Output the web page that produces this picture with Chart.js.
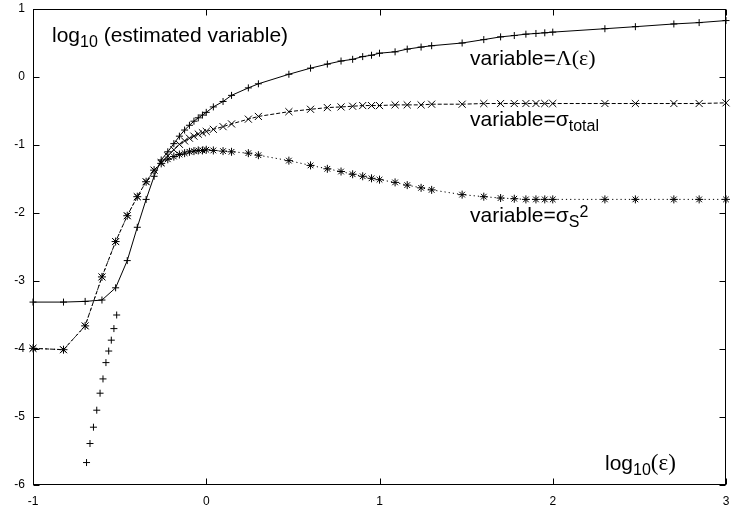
<!DOCTYPE html>
<html>
<head>
<meta charset="utf-8">
<script src="https://cdn.jsdelivr.net/npm/chart.js@4.4.0/dist/chart.umd.min.js"></script>
<style>
  html, body { margin: 0; padding: 0; background: #fff; }
  #wrap { width: 732px; height: 510px; }
</style>
</head>
<body>
<div id="wrap"><canvas id="chart" width="732" height="510"></canvas></div>
<script>
// log10(eps) at every computed point
const logEps = [
  -1.000, -0.824, -0.699, -0.602, -0.523, -0.456, -0.398, -0.347, -0.301, -0.260,
  -0.222, -0.187, -0.155, -0.125, -0.097, -0.071, -0.046, -0.022, 0.000,
  0.041, 0.097, 0.146, 0.243,
  0.301, 0.477, 0.602, 0.699, 0.778, 0.845, 0.903, 0.954,
  1.000, 1.090, 1.160, 1.240,
  1.301, 1.477, 1.602, 1.699, 1.778, 1.845, 1.903, 1.954,
  2.000, 2.301, 2.477, 2.699, 2.845, 3.000
];

// log10 of the estimate, one per logEps entry
const lambdaVals = [
  -3.31, -3.31, -3.30, -3.28, -3.10, -2.70, -2.21, -1.80, -1.46, -1.22,
  -1.10, -0.98, -0.87, -0.78, -0.71, -0.65, -0.60, -0.56, -0.52,
  -0.44, -0.36, -0.27, -0.16,
  -0.10, 0.04, 0.13, 0.19, 0.235, 0.26, 0.30, 0.32,
  0.35, 0.37, 0.41, 0.44,
  0.46, 0.50, 0.55, 0.59, 0.61, 0.63, 0.64, 0.65,
  0.66, 0.71, 0.74, 0.78, 0.80, 0.83
];
const sigmaTotalVals = [
  -3.99, -4.01, -3.66, -2.94, -2.42, -2.04, -1.76, -1.54, -1.37, -1.26,
  -1.16, -1.07, -0.99, -0.94, -0.90, -0.87, -0.84, -0.82, -0.80,
  -0.77, -0.73, -0.69, -0.62,
  -0.58, -0.51, -0.475, -0.45, -0.44, -0.43, -0.42, -0.42,
  -0.42, -0.41, -0.41, -0.41,
  -0.40, -0.40, -0.39, -0.39, -0.39, -0.39, -0.39, -0.39,
  -0.39, -0.39, -0.39, -0.39, -0.39, -0.38
];
const sigmaS2Vals = [
  -3.99, -4.01, -3.66, -2.94, -2.42, -2.04, -1.76, -1.54, -1.37, -1.27,
  -1.21, -1.17, -1.14, -1.12, -1.10, -1.09, -1.08, -1.08, -1.07,
  -1.08, -1.09, -1.10, -1.12,
  -1.15, -1.23, -1.30, -1.35, -1.39, -1.43, -1.46, -1.49,
  -1.51, -1.55, -1.59, -1.63,
  -1.66, -1.73, -1.76, -1.78, -1.79, -1.80, -1.80, -1.80,
  -1.80, -1.80, -1.80, -1.80, -1.80, -1.80
];

// finer eps steps for Lambda below the jump (points only)
const lambdaFineEps = [-0.691, -0.671, -0.651, -0.632, -0.613, -0.596, -0.579, -0.563, -0.548, -0.533, -0.517];
const lambdaFineVals = [-5.67, -5.39, -5.15, -4.90, -4.65, -4.44, -4.20, -4.03, -3.87, -3.70, -3.50];

const xTickVals = [-1, 0, 1, 2, 3];
const yTickVals = [1, 0, -1, -2, -3, -4, -5, -6];

const SANS = '"Liberation Sans", Arial, Helvetica, sans-serif';
const SERIF = '"Liberation Serif", "Times New Roman", serif';

function toPoints(xs, ys) {
  return xs.map((x, i) => ({ x: x, y: ys[i] }));
}

// text with sub/superscript pieces, drawn left to right
function drawRuns(ctx, x, y, runs) {
  runs.forEach(r => {
    ctx.font = `${r.size || 21}px ${r.family || SANS}`;
    ctx.fillText(r.t, x, y + (r.dy || 0));
    x += ctx.measureText(r.t).width;
  });
}

// box, inward ticks on all four sides, and the text labels
const framePlugin = {
  id: 'frame',
  afterDraw(chart) {
    const { ctx, chartArea: a, scales } = chart;
    const L = Math.round(a.left) + 0.5;
    const R = Math.round(a.right) - 0.5;
    const T = Math.round(a.top) + 0.5;
    const B = Math.round(a.bottom) - 0.5;
    const tl = 6;

    ctx.save();
    ctx.strokeStyle = '#000';
    ctx.lineWidth = 1;
    ctx.setLineDash([]);
    ctx.strokeRect(L, T, R - L, B - T);

    ctx.beginPath();
    scales.x.ticks.forEach(t => {
      const px = Math.round(scales.x.getPixelForValue(t.value)) + 0.5;
      ctx.moveTo(px, B); ctx.lineTo(px, B - tl);
      ctx.moveTo(px, T); ctx.lineTo(px, T + tl);
    });
    scales.y.ticks.forEach(t => {
      const py = Math.round(scales.y.getPixelForValue(t.value)) + 0.5;
      ctx.moveTo(L, py); ctx.lineTo(L + tl, py);
      ctx.moveTo(R, py); ctx.lineTo(R - tl, py);
    });
    ctx.stroke();

    ctx.fillStyle = '#000';
    ctx.textAlign = 'left';
    ctx.textBaseline = 'alphabetic';

    drawRuns(ctx, 52, 42, [
      { t: 'log' }, { t: '10', size: 16, dy: 5 }, { t: ' (estimated variable)' }
    ]);
    drawRuns(ctx, 470, 65, [
      { t: 'variable=' }, { t: 'Λ(ε)', family: SERIF, size: 22 }
    ]);
    drawRuns(ctx, 470, 126, [
      { t: 'variable=' }, { t: 'σ' }, { t: 'total', size: 16, dy: 5 }
    ]);
    drawRuns(ctx, 470, 222, [
      { t: 'variable=' }, { t: 'σ' }, { t: 'S', size: 16, dy: 5 }, { t: '2', size: 16, dy: -5 }
    ]);
    drawRuns(ctx, 605, 470, [
      { t: 'log' }, { t: '10', size: 16, dy: 5 }, { t: '(ε)', family: SERIF, size: 23 }
    ]);
    ctx.restore();
  }
};

function lineSet(label, ys, style, radius, dash) {
  return {
    label: label,
    data: toPoints(logEps, ys),
    showLine: true,
    borderColor: '#000',
    borderWidth: 1,
    borderDash: dash,
    tension: 0,
    fill: false,
    pointStyle: style,
    pointRadius: radius,
    pointHoverRadius: radius,
    pointBorderColor: '#000',
    pointBorderWidth: 1,
    pointBackgroundColor: 'rgba(0,0,0,0)',
    clip: false
  };
}

const tickFont = { family: SANS, size: 12 };

new Chart(document.getElementById('chart'), {
  type: 'scatter',
  data: {
    datasets: [
      lineSet('Lambda', lambdaVals, 'cross', 3.5, []),
      lineSet('sigma_total', sigmaTotalVals, 'crossRot', 5, [4, 2]),
      lineSet('sigma_S2', sigmaS2Vals, 'star', 4, [1.2, 3]),
      {
        label: 'Lambda fine',
        data: toPoints(lambdaFineEps, lambdaFineVals),
        showLine: false,
        pointStyle: 'cross',
        pointRadius: 3.5,
        pointBorderColor: '#000',
        pointBorderWidth: 1,
        clip: false
      }
    ]
  },
  options: {
    responsive: false,
    animation: false,
    events: [],
    layout: { padding: { top: 9, right: 3, left: 0, bottom: 0 } },
    plugins: { legend: { display: false }, tooltip: { enabled: false } },
    scales: {
      x: {
        type: 'linear',
        min: -1,
        max: 3,
        afterBuildTicks: s => { s.ticks = xTickVals.map(v => ({ value: v })); },
        ticks: { color: '#000', font: tickFont, padding: 9, maxRotation: 0, callback: v => String(v) },
        grid: { display: false, drawTicks: false },
        border: { display: false },
        afterFit: s => { s.height = 25; s.paddingLeft = 0; s.paddingRight = 0; }
      },
      y: {
        type: 'linear',
        min: -6,
        max: 1,
        afterBuildTicks: s => { s.ticks = yTickVals.map(v => ({ value: v })); },
        ticks: { color: '#000', font: tickFont, padding: 8, callback: v => String(v) },
        grid: { display: false, drawTicks: false },
        border: { display: false },
        afterFit: s => { s.width = 33; s.paddingTop = 0; s.paddingBottom = 0; }
      }
    }
  },
  plugins: [framePlugin]
});
</script>
</body>
</html>
